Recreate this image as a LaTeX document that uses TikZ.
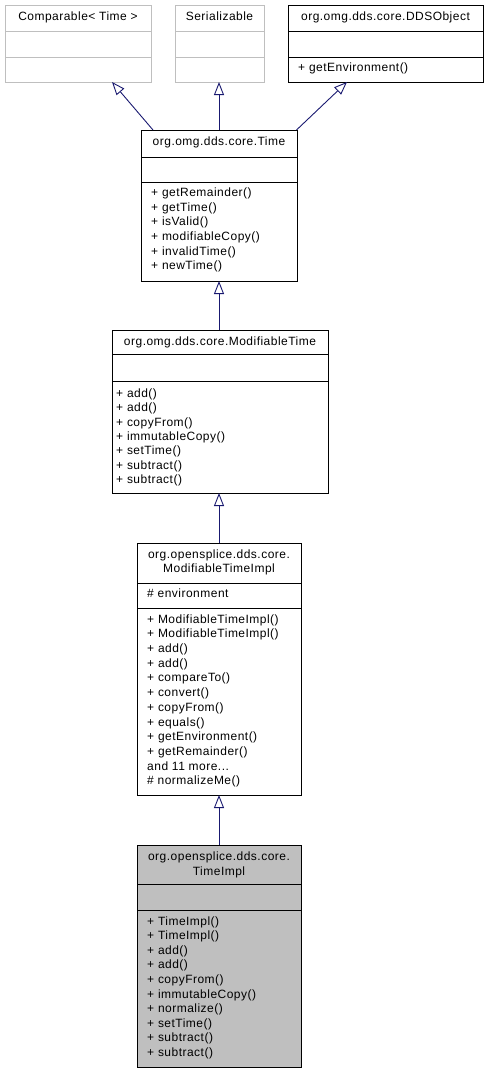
\documentclass[tikz,border=0pt]{standalone}
\usepackage{fontspec}
\setmainfont{Liberation Sans}[LetterSpace=4]
\usetikzlibrary{arrows.meta}
\definecolor{greyss}{HTML}{BFBFBF}
\definecolor{mblue}{HTML}{191970}
\tikzset{
  cls/.style={draw=black, line width=0.9pt, fill=white, outer sep=0pt, inner sep=0pt},
  ext/.style={draw=greyss, line width=0.9pt, fill=white, outer sep=0pt, inner sep=0pt},
  cur/.style={draw=black, line width=0.9pt, fill=greyss, outer sep=0pt, inner sep=0pt},
  mem/.style={anchor=mid west, inner sep=0pt, font=\fontsize{12}{14}\selectfont},
  ttl/.style={anchor=mid, inner sep=0pt, font=\fontsize{12}{14}\selectfont},
  divb/.style={draw=black, line width=0.9pt},
  divg/.style={draw=greyss, line width=0.9pt},
  inh/.style={draw=mblue, line width=0.9pt, -{Triangle[open, length=13pt, width=10pt, fill=white]}}
}
\begin{document}
\begin{tikzpicture}[x=1pt, y=-1pt]
\useasboundingbox (0,0) rectangle (489,1073);
% top row
\node[ext, minimum width=146pt, minimum height=77pt] (comp) at (78,43.5) {};
\draw[divg] (comp.west |- 0,31) -- (comp.east |- 0,31);
\draw[divg] (comp.west |- 0,57) -- (comp.east |- 0,57);
\node[ttl] (compt) at (78,17.5) {Comparable< Time >};

\node[ext, minimum width=89pt, minimum height=77pt] (ser) at (219.5,43.5) {};
\draw[divg] (ser.west |- 0,31) -- (ser.east |- 0,31);
\draw[divg] (ser.west |- 0,57) -- (ser.east |- 0,57);
\node[ttl] (sert) at (219.5,17.5) {Serializable};

\node[cls, minimum width=195pt, minimum height=77pt] (dds) at (385.5,43.5) {};
\draw[divb] (dds.west |- 0,31) -- (dds.east |- 0,31);
\draw[divb] (dds.west |- 0,57) -- (dds.east |- 0,57);
\node[ttl] (ddst) at (385.5,17.5) {org.omg.dds.core.DDSObject};
\node[mem] (ddsm) at (298,68.5) {+ getEnvironment()};

% Time
\node[cls, minimum width=156pt, minimum height=151pt] (time) at (219,205.5) {};
\draw[divb] (time.west |- 0,157) -- (time.east |- 0,157);
\draw[divb] (time.west |- 0,182) -- (time.east |- 0,182);
\node[ttl] (timet) at (219,143) {org.omg.dds.core.Time};
\foreach \t [count=\i from 0] in {getRemainder(),getTime(),isValid(),modifiableCopy(),invalidTime(),newTime()}
  \node[mem] (timem\i) at (151,193.8+14.65*\i) {+ \t};

% ModifiableTime
\node[cls, minimum width=216pt, minimum height=163pt] (mtime) at (220,411.5) {};
\draw[divb] (mtime.west |- 0,354) -- (mtime.east |- 0,354);
\draw[divb] (mtime.west |- 0,381) -- (mtime.east |- 0,381);
\node[ttl] (mtimet) at (220,343) {org.omg.dds.core.ModifiableTime};
\foreach \t [count=\i from 0] in {add(),add(),copyFrom(),immutableCopy(),setTime(),subtract(),subtract()}
  \node[mem] (mtimem\i) at (116,394.5+14.45*\i) {+ \t};

% ModifiableTimeImpl
\node[cls, minimum width=164pt, minimum height=252pt] (mti) at (219,669) {};
\draw[divb] (mti.west |- 0,583) -- (mti.east |- 0,583);
\draw[divb] (mti.west |- 0,608) -- (mti.east |- 0,608);
\node[ttl] (mtit1) at (219,555.5) {org.opensplice.dds.core.};
\node[ttl] (mtit2) at (219,570) {ModifiableTimeImpl};
\node[mem] (mtiattr) at (147,594.5) {\# environment};
\foreach \t [count=\i from 0] in {ModifiableTimeImpl(),ModifiableTimeImpl(),add(),add(),compareTo(),convert(),copyFrom(),equals(),getEnvironment(),getRemainder()}
  \node[mem] (mtim\i) at (147,620.5+14.7*\i) {+ \t};
\node[mem] (mtimore) at (147,767.5) {and 11 more...};
\node[mem] (mtinorm) at (147,782) {\# normalizeMe()};

% TimeImpl
\node[cur, minimum width=164pt, minimum height=222pt] (ti) at (219,956) {};
\draw[divb] (ti.west |- 0,884) -- (ti.east |- 0,884);
\draw[divb] (ti.west |- 0,910) -- (ti.east |- 0,910);
\node[ttl] (tit1) at (219,858) {org.opensplice.dds.core.};
\node[ttl] (tit2) at (219,872.5) {TimeImpl};
\foreach \t [count=\i from 0] in {TimeImpl(),TimeImpl(),add(),add(),copyFrom(),immutableCopy(),normalize(),setTime(),subtract(),subtract()}
  \node[mem] (tim\i) at (147,922.5+14.6*\i) {+ \t};

% inheritance arrows
\draw[inh] ([xshift=12pt]time.north west) -- ([xshift=34pt]comp.south);
\draw[inh] (time.north) -- (time.north |- ser.south);
\draw[inh] ([xshift=-0.5pt]time.north east) -- ([xshift=-38.5pt]dds.south);
\draw[inh] (mtime.north -| time.south) -- (time.south);
\draw[inh] (mti.north) -- (mti.north |- mtime.south);
\draw[inh] (ti.north) -- (mti.south);
\end{tikzpicture}
\end{document}
